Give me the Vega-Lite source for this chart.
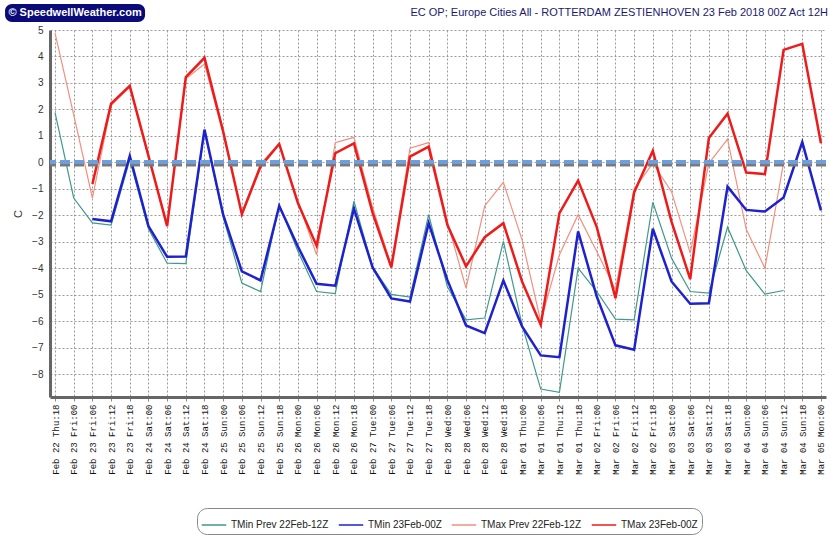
{
  "$schema": "https://vega.github.io/schema/vega-lite/v6.json",
  "autosize": {"type": "none"},
  "padding": {"left": 50, "top": 30, "right": 5, "bottom": 138},
  "width": 776,
  "height": 367,
  "background": "white",
  "title": {
    "text": "EC OP; Europe Cities All - ROTTERDAM ZESTIENHOVEN 23 Feb 2018 00Z Act 12H",
    "anchor": "end",
    "font": "Liberation Sans",
    "fontSize": 11,
    "fontWeight": "normal",
    "color": "#1a1a6e",
    "offset": -14
  },
  "data": {
    "values": [
      {"t": "Feb 22 Thu:18", "TMin Prev 22Feb-12Z": 1.88, "TMin 23Feb-00Z": null, "TMax Prev 22Feb-12Z": 4.88, "TMax 23Feb-00Z": null},
      {"t": "Feb 23 Fri:00", "TMin Prev 22Feb-12Z": -1.34, "TMin 23Feb-00Z": null, "TMax Prev 22Feb-12Z": 1.8, "TMax 23Feb-00Z": null},
      {"t": "Feb 23 Fri:06", "TMin Prev 22Feb-12Z": -2.28, "TMin 23Feb-00Z": -2.13, "TMax Prev 22Feb-12Z": -1.34, "TMax 23Feb-00Z": -0.81},
      {"t": "Feb 23 Fri:12", "TMin Prev 22Feb-12Z": -2.36, "TMin 23Feb-00Z": -2.22, "TMax Prev 22Feb-12Z": 2.15, "TMax 23Feb-00Z": 2.22},
      {"t": "Feb 23 Fri:18", "TMin Prev 22Feb-12Z": 0.1, "TMin 23Feb-00Z": 0.25, "TMax Prev 22Feb-12Z": 2.85, "TMax 23Feb-00Z": 2.89},
      {"t": "Feb 24 Sat:00", "TMin Prev 22Feb-12Z": -2.5, "TMin 23Feb-00Z": -2.4, "TMax Prev 22Feb-12Z": 0.2, "TMax 23Feb-00Z": 0.25},
      {"t": "Feb 24 Sat:06", "TMin Prev 22Feb-12Z": -3.8, "TMin 23Feb-00Z": -3.56, "TMax Prev 22Feb-12Z": -2.3, "TMax 23Feb-00Z": -2.4},
      {"t": "Feb 24 Sat:12", "TMin Prev 22Feb-12Z": -3.82, "TMin 23Feb-00Z": -3.55, "TMax Prev 22Feb-12Z": 3.16, "TMax 23Feb-00Z": 3.22},
      {"t": "Feb 24 Sat:18", "TMin Prev 22Feb-12Z": 1.2, "TMin 23Feb-00Z": 1.24, "TMax Prev 22Feb-12Z": 3.72, "TMax 23Feb-00Z": 3.95},
      {"t": "Feb 25 Sun:00", "TMin Prev 22Feb-12Z": -2.05, "TMin 23Feb-00Z": -1.97, "TMax Prev 22Feb-12Z": 1.1, "TMax 23Feb-00Z": 1.17},
      {"t": "Feb 25 Sun:06", "TMin Prev 22Feb-12Z": -4.55, "TMin 23Feb-00Z": -4.11, "TMax Prev 22Feb-12Z": -1.9, "TMax 23Feb-00Z": -1.95},
      {"t": "Feb 25 Sun:12", "TMin Prev 22Feb-12Z": -4.87, "TMin 23Feb-00Z": -4.45, "TMax Prev 22Feb-12Z": -0.05, "TMax 23Feb-00Z": -0.15},
      {"t": "Feb 25 Sun:18", "TMin Prev 22Feb-12Z": -1.6, "TMin 23Feb-00Z": -1.64, "TMax Prev 22Feb-12Z": 0.72, "TMax 23Feb-00Z": 0.7},
      {"t": "Feb 26 Mon:00", "TMin Prev 22Feb-12Z": -3.35, "TMin 23Feb-00Z": -3.17, "TMax Prev 22Feb-12Z": -1.45, "TMax 23Feb-00Z": -1.53},
      {"t": "Feb 26 Mon:06", "TMin Prev 22Feb-12Z": -4.87, "TMin 23Feb-00Z": -4.58, "TMax Prev 22Feb-12Z": -3.48, "TMax 23Feb-00Z": -3.14},
      {"t": "Feb 26 Mon:12", "TMin Prev 22Feb-12Z": -4.95, "TMin 23Feb-00Z": -4.65, "TMax Prev 22Feb-12Z": 0.75, "TMax 23Feb-00Z": 0.35},
      {"t": "Feb 26 Mon:18", "TMin Prev 22Feb-12Z": -1.46, "TMin 23Feb-00Z": -1.74, "TMax Prev 22Feb-12Z": 0.95, "TMax 23Feb-00Z": 0.72},
      {"t": "Feb 27 Tue:00", "TMin Prev 22Feb-12Z": -3.95, "TMin 23Feb-00Z": -3.96, "TMax Prev 22Feb-12Z": -1.7, "TMax 23Feb-00Z": -1.9},
      {"t": "Feb 27 Tue:06", "TMin Prev 22Feb-12Z": -4.98, "TMin 23Feb-00Z": -5.13, "TMax Prev 22Feb-12Z": -3.9, "TMax 23Feb-00Z": -3.96},
      {"t": "Feb 27 Tue:12", "TMin Prev 22Feb-12Z": -5.08, "TMin 23Feb-00Z": -5.25, "TMax Prev 22Feb-12Z": 0.54, "TMax 23Feb-00Z": 0.22},
      {"t": "Feb 27 Tue:18", "TMin Prev 22Feb-12Z": -1.97, "TMin 23Feb-00Z": -2.29, "TMax Prev 22Feb-12Z": 0.75, "TMax 23Feb-00Z": 0.6},
      {"t": "Feb 28 Wed:00", "TMin Prev 22Feb-12Z": -4.68, "TMin 23Feb-00Z": -4.43, "TMax Prev 22Feb-12Z": -2.23, "TMax 23Feb-00Z": -2.35},
      {"t": "Feb 28 Wed:06", "TMin Prev 22Feb-12Z": -5.94, "TMin 23Feb-00Z": -6.15, "TMax Prev 22Feb-12Z": -4.74, "TMax 23Feb-00Z": -3.92},
      {"t": "Feb 28 Wed:12", "TMin Prev 22Feb-12Z": -5.87, "TMin 23Feb-00Z": -6.44, "TMax Prev 22Feb-12Z": -1.64, "TMax 23Feb-00Z": -2.82},
      {"t": "Feb 28 Wed:18", "TMin Prev 22Feb-12Z": -2.98, "TMin 23Feb-00Z": -4.45, "TMax Prev 22Feb-12Z": -0.75, "TMax 23Feb-00Z": -2.29},
      {"t": "Mar 01 Thu:00", "TMin Prev 22Feb-12Z": -6.13, "TMin 23Feb-00Z": -6.19, "TMax Prev 22Feb-12Z": -2.92, "TMax 23Feb-00Z": -4.49},
      {"t": "Mar 01 Thu:06", "TMin Prev 22Feb-12Z": -8.55, "TMin 23Feb-00Z": -7.28, "TMax Prev 22Feb-12Z": -6.0, "TMax 23Feb-00Z": -6.13},
      {"t": "Mar 01 Thu:12", "TMin Prev 22Feb-12Z": -8.67, "TMin 23Feb-00Z": -7.35, "TMax Prev 22Feb-12Z": -3.48, "TMax 23Feb-00Z": -1.91},
      {"t": "Mar 01 Thu:18", "TMin Prev 22Feb-12Z": -3.99, "TMin 23Feb-00Z": -2.6, "TMax Prev 22Feb-12Z": -1.97, "TMax 23Feb-00Z": -0.68},
      {"t": "Mar 02 Fri:00", "TMin Prev 22Feb-12Z": -4.87, "TMin 23Feb-00Z": -5.06, "TMax Prev 22Feb-12Z": -3.36, "TMax 23Feb-00Z": -2.44},
      {"t": "Mar 02 Fri:06", "TMin Prev 22Feb-12Z": -5.91, "TMin 23Feb-00Z": -6.9, "TMax Prev 22Feb-12Z": -4.8, "TMax 23Feb-00Z": -5.12},
      {"t": "Mar 02 Fri:12", "TMin Prev 22Feb-12Z": -5.94, "TMin 23Feb-00Z": -7.07, "TMax Prev 22Feb-12Z": -1.0, "TMax 23Feb-00Z": -1.13},
      {"t": "Mar 02 Fri:18", "TMin Prev 22Feb-12Z": -1.5, "TMin 23Feb-00Z": -2.5, "TMax Prev 22Feb-12Z": -0.03, "TMax 23Feb-00Z": 0.44},
      {"t": "Mar 03 Sat:00", "TMin Prev 22Feb-12Z": -3.61, "TMin 23Feb-00Z": -4.49, "TMax Prev 22Feb-12Z": -1.1, "TMax 23Feb-00Z": -2.23},
      {"t": "Mar 03 Sat:06", "TMin Prev 22Feb-12Z": -4.87, "TMin 23Feb-00Z": -5.33, "TMax Prev 22Feb-12Z": -3.42, "TMax 23Feb-00Z": -4.4},
      {"t": "Mar 03 Sat:12", "TMin Prev 22Feb-12Z": -4.93, "TMin 23Feb-00Z": -5.31, "TMax Prev 22Feb-12Z": -0.03, "TMax 23Feb-00Z": 0.92},
      {"t": "Mar 03 Sat:18", "TMin Prev 22Feb-12Z": -2.44, "TMin 23Feb-00Z": -0.91, "TMax Prev 22Feb-12Z": 0.88, "TMax 23Feb-00Z": 1.84},
      {"t": "Mar 04 Sun:00", "TMin Prev 22Feb-12Z": -4.08, "TMin 23Feb-00Z": -1.79, "TMax Prev 22Feb-12Z": -2.52, "TMax 23Feb-00Z": -0.38},
      {"t": "Mar 04 Sun:06", "TMin Prev 22Feb-12Z": -4.97, "TMin 23Feb-00Z": -1.85, "TMax Prev 22Feb-12Z": -3.99, "TMax 23Feb-00Z": -0.44},
      {"t": "Mar 04 Sun:12", "TMin Prev 22Feb-12Z": -4.83, "TMin 23Feb-00Z": -1.32, "TMax Prev 22Feb-12Z": 0.0, "TMax 23Feb-00Z": 4.25},
      {"t": "Mar 04 Sun:18", "TMin Prev 22Feb-12Z": null, "TMin 23Feb-00Z": 0.77, "TMax Prev 22Feb-12Z": null, "TMax 23Feb-00Z": 4.48},
      {"t": "Mar 05 Mon:00", "TMin Prev 22Feb-12Z": null, "TMin 23Feb-00Z": -1.81, "TMax Prev 22Feb-12Z": null, "TMax 23Feb-00Z": 0.73}
    ]
  },
  "layer": [
    {
      "transform": [
        {"fold": ["TMin Prev 22Feb-12Z", "TMin 23Feb-00Z", "TMax Prev 22Feb-12Z", "TMax 23Feb-00Z"], "as": ["series", "value"]},
        {"filter": "datum.value != null"}
      ],
      "mark": {"type": "line", "interpolate": "linear"},
      "encoding": {
        "x": {
          "field": "t",
          "type": "nominal",
          "sort": null,
          "scale": {"type": "point", "padding": 0.27},
          "axis": {
            "title": null,
            "labelAngle": -90,
            "labelFont": "Liberation Mono",
            "labelFontSize": 9,
            "labelColor": "#111",
            "labelPadding": 3,
            "labelOverlap": false,
            "grid": true,
            "gridDash": [2, 2],
            "gridColor": "#9a9a9a",
            "domainColor": "#666",
            "domainWidth": 3,
            "tickColor": "#888",
            "tickSize": 4
          }
        },
        "y": {
          "field": "value",
          "type": "quantitative",
          "scale": {"domain": [-8.85, 5], "nice": false, "zero": false},
          "axis": {
            "title": "C",
            "titleFont": "Liberation Sans",
            "titleFontSize": 11,
            "titleFontWeight": "normal",
            "titleColor": "#333",
            "titlePadding": 8,
            "values": [-8, -7, -6, -5, -4, -3, -2, -1, 0, 1, 2, 3, 4, 5],
            "tickCount": 14,
            "labelOverlap": false,
            "labelBound": false,
            "labelFont": "Liberation Sans",
            "labelFontSize": 10,
            "labelColor": "#333",
            "grid": true,
            "gridDash": [2, 2],
            "gridColor": "#9a9a9a",
            "domainColor": "#666",
            "domainWidth": 3,
            "ticks": false,
            "labelPadding": 7
          }
        },
        "color": {
          "field": "series",
          "type": "nominal",
          "sort": null,
          "scale": {
            "domain": ["TMin Prev 22Feb-12Z", "TMin 23Feb-00Z", "TMax Prev 22Feb-12Z", "TMax 23Feb-00Z"],
            "range": ["#3f9a8a", "#1e22cc", "#f2907e", "#ee1b1b"]
          },
          "legend": {
            "title": null,
            "orient": "none",
            "legendX": 147,
            "legendY": 478,
            "direction": "horizontal",
            "columns": 4,
            "columnPadding": 6,
            "symbolType": "stroke",
            "symbolSize": 600,
            "labelFont": "Liberation Sans",
            "labelFontSize": 10,
            "labelColor": "#222",
            "strokeColor": "#888",
            "cornerRadius": 10,
            "padding": 4,
            "fillColor": "white"
          }
        },
        "strokeWidth": {
          "condition": {"test": "indexof(datum.series, 'Prev') >= 0", "value": 1.2},
          "value": 2.5
        }
      }
    },
    {
      "data": {"values": [{}]},
      "mark": {"type": "rule", "stroke": "#7a7a7a", "strokeWidth": 4, "strokeDash": [10, 4], "yOffset": 2},
      "encoding": {"y": {"datum": 0, "type": "quantitative"}}
    },
    {
      "data": {"values": [{}]},
      "mark": {"type": "rule", "stroke": "#6f9fdb", "strokeWidth": 4, "strokeDash": [10, 4], "yOffset": -0.5},
      "encoding": {"y": {"datum": 0, "type": "quantitative"}}
    },
    {
      "data": {"values": [{}]},
      "mark": {"type": "rect", "width": 140, "height": 18, "cornerRadius": 7, "fill": "#0a0a78", "xOffset": 20, "yOffset": -17},
      "encoding": {"x": {"datum": "Feb 22 Thu:18", "type": "nominal"}, "y": {"datum": 5, "type": "quantitative"}}
    },
    {
      "data": {"values": [{}]},
      "mark": {"type": "text", "text": "© SpeedwellWeather.com", "font": "Liberation Sans", "fontSize": 11, "fontWeight": "bold", "fill": "#ffffff", "align": "center", "baseline": "middle", "dx": 20, "dy": -17},
      "encoding": {"x": {"datum": "Feb 22 Thu:18", "type": "nominal"}, "y": {"datum": 5, "type": "quantitative"}}
    }
  ],
  "config": {
    "view": {"stroke": null},
    "axis": {"labelOverlap": false},
    "axisY": {"labelOverlap": false}
  }
}
